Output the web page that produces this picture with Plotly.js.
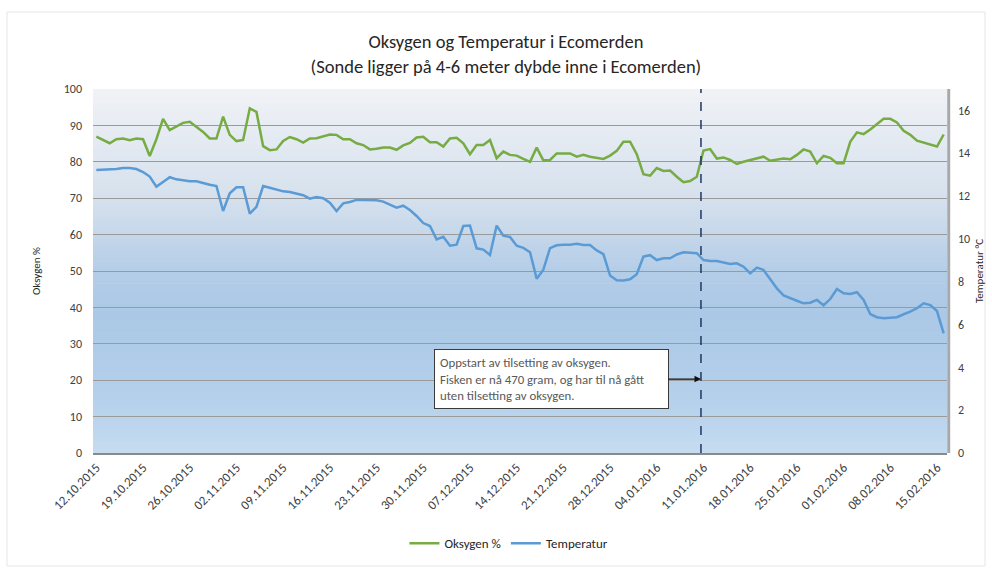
<!DOCTYPE html>
<html>
<head>
<meta charset="utf-8">
<script src="https://cdn.plot.ly/plotly-3.0.1.min.js"></script>
<style>html,body{margin:0;padding:0;background:#fff;}#chart{width:992px;height:570px;}</style>
</head>
<body>
<div id="chart"></div>
<script>
// ---- DATA ----
const dates = [
 '2015-10-12','2015-10-13','2015-10-14','2015-10-15','2015-10-16','2015-10-17','2015-10-18','2015-10-19','2015-10-20','2015-10-21',
 '2015-10-22','2015-10-23','2015-10-24','2015-10-25','2015-10-26','2015-10-27','2015-10-28','2015-10-29','2015-10-30','2015-10-31',
 '2015-11-01','2015-11-02','2015-11-03','2015-11-04','2015-11-05','2015-11-06','2015-11-07','2015-11-08','2015-11-09','2015-11-10',
 '2015-11-11','2015-11-12','2015-11-13','2015-11-14','2015-11-15','2015-11-16','2015-11-17','2015-11-18','2015-11-19','2015-11-20',
 '2015-11-21','2015-11-22','2015-11-23','2015-11-24','2015-11-25','2015-11-26','2015-11-27','2015-11-28','2015-11-29','2015-11-30',
 '2015-12-01','2015-12-02','2015-12-03','2015-12-04','2015-12-05','2015-12-06','2015-12-07','2015-12-08','2015-12-09','2015-12-10',
 '2015-12-11','2015-12-12','2015-12-13','2015-12-14','2015-12-15','2015-12-16','2015-12-17','2015-12-18','2015-12-19','2015-12-20',
 '2015-12-21','2015-12-22','2015-12-23','2015-12-24','2015-12-25','2015-12-26','2015-12-27','2015-12-28','2015-12-29','2015-12-30',
 '2015-12-31','2016-01-01','2016-01-02','2016-01-03','2016-01-04','2016-01-05','2016-01-06','2016-01-07','2016-01-08','2016-01-09',
 '2016-01-10','2016-01-11','2016-01-12','2016-01-13','2016-01-14','2016-01-15','2016-01-16','2016-01-17','2016-01-18','2016-01-19',
 '2016-01-20','2016-01-21','2016-01-22','2016-01-23','2016-01-24','2016-01-25','2016-01-26','2016-01-27','2016-01-28','2016-01-29',
 '2016-01-30','2016-01-31','2016-02-01','2016-02-02','2016-02-03','2016-02-04','2016-02-05','2016-02-06','2016-02-07','2016-02-08',
 '2016-02-09','2016-02-10','2016-02-11','2016-02-12','2016-02-13','2016-02-14','2016-02-15','2016-02-16'
];

const oksygen = [
 86.9,86.0,85.1,86.2,86.4,85.9,86.4,86.2,81.6,86.2,
 91.8,88.7,89.8,90.7,91.0,89.6,88.2,86.4,86.4,92.4,
 87.4,85.7,86.0,94.7,93.7,84.3,83.2,83.4,85.7,86.8,
 86.2,85.3,86.4,86.5,86.9,87.5,87.4,86.2,86.2,85.1,
 84.6,83.4,83.6,83.9,83.9,83.3,84.5,85.2,86.7,86.9,
 85.4,85.4,84.2,86.4,86.6,85.1,82.1,84.6,84.6,86.0,
 81.0,82.8,81.9,81.7,80.8,80.0,83.9,80.4,80.5,82.3,
 82.3,82.3,81.4,81.9,81.4,81.0,80.8,81.7,83.0,85.5,
 85.5,82.1,76.6,76.2,78.3,77.5,77.6,75.9,74.4,74.7,
 75.9,83.1,83.5,80.9,81.2,80.5,79.4,80.0,80.5,81.0,
 81.4,80.3,80.5,80.9,80.7,81.9,83.4,82.8,79.6,81.6,
 81.1,79.6,79.6,85.5,88.1,87.6,88.9,90.3,91.8,91.8,
 90.8,88.5,87.4,85.8,85.2,84.6,84.2,87.5
];

const temperatur = [
 13.22,13.23,13.25,13.26,13.31,13.31,13.26,13.12,12.91,12.44,
 12.66,12.88,12.78,12.74,12.69,12.69,12.60,12.53,12.47,11.30,
 12.13,12.41,12.41,11.18,11.50,12.47,12.39,12.32,12.22,12.19,
 12.11,12.04,11.88,11.96,11.90,11.69,11.30,11.66,11.72,11.82,
 11.82,11.82,11.80,11.74,11.60,11.46,11.55,11.35,11.07,10.74,
 10.60,9.98,10.10,9.68,9.73,10.60,10.62,9.56,9.50,9.25,
 10.62,10.15,10.09,9.68,9.58,9.38,8.14,8.56,9.57,9.70,
 9.73,9.73,9.77,9.71,9.71,9.46,9.29,8.29,8.07,8.06,
 8.11,8.35,9.17,9.24,9.01,9.09,9.09,9.27,9.37,9.36,
 9.33,9.01,8.97,8.97,8.89,8.83,8.86,8.70,8.39,8.66,
 8.55,8.13,7.69,7.36,7.22,7.11,6.99,7.02,7.15,6.90,
 7.19,7.66,7.46,7.43,7.51,7.15,6.49,6.34,6.29,6.31,
 6.34,6.48,6.60,6.76,6.99,6.91,6.63,5.59
];

const tickDates = ['2015-10-12','2015-10-19','2015-10-26','2015-11-02','2015-11-09','2015-11-16','2015-11-23',
 '2015-11-30','2015-12-07','2015-12-14','2015-12-21','2015-12-28','2016-01-04','2016-01-11','2016-01-18',
 '2016-01-25','2016-02-01','2016-02-08','2016-02-15'];
const tickLabels = ['12.10.2015','19.10.2015','26.10.2015','02.11.2015','09.11.2015','16.11.2015','23.11.2015',
 '30.11.2015','07.12.2015','14.12.2015','21.12.2015','28.12.2015','04.01.2016','11.01.2016','18.01.2016',
 '25.01.2016','01.02.2016','08.02.2016','15.02.2016'];

const seriesNames = ['Oksygen %', 'Temperatur'];
const markerDate = '2016-01-10 15:00';
const noteText = 'Oppstart av tilsetting av oksygen.<br>Fisken er nå 470 gram, og har til nå gått<br>uten tilsetting av oksygen.';

// ---- STYLE ----
const FONT = 'Carlito, Lato, "Liberation Sans", sans-serif';
const green = '#77ab43';
const blue = '#5b9bd5';

// gradient background bands (plot area)
const stops = [
 [0.00, [240,242,246]],
 [0.30, [214,225,237]],
 [0.50, [180,205,231]],
 [0.62, [171,200,230]],
 [0.85, [180,208,235]],
 [1.00, [198,220,240]]
];
function colAt(t){
  for (let i=1;i<stops.length;i++){
    if (t<=stops[i][0]){
      const a=stops[i-1], b=stops[i];
      const f=(t-a[0])/(b[0]-a[0]);
      const c=a[1].map((v,k)=>Math.round(v+(b[1][k]-v)*f));
      return 'rgb('+c.join(',')+')';
    }
  }
  return 'rgb('+stops[stops.length-1][1].join(',')+')';
}
const shapes = [];
const N = 90;
for (let i=0;i<N;i++){
  const t = (i+0.5)/N; // from top
  shapes.push({type:'rect', xref:'paper', yref:'paper', x0:0, x1:1,
    y0: 1-(i+1)/N - 0.002, y1: 1-i/N, fillcolor: colAt(t), line:{width:0}, layer:'below'});
}
// right shadow edge
shapes.push({type:'line', xref:'paper', yref:'paper', x0:1.002, x1:1.002, y0:0, y1:1, line:{color:'#a8a8a8', width:3}});
// vertical dashed marker line
shapes.push({type:'line', xref:'x', yref:'paper', x0:markerDate, x1:markerDate, y0:0, y1:1,
  line:{color:'#1f3864', width:1.5, dash:'dash'}});
// outer chart border
shapes.push({type:'rect', xref:'paper', yref:'paper', x0:-0.1007, x1:1.0445, y0:-0.3104, y1:1.2115,
  line:{color:'#e6e6e6', width:1}, fillcolor:'rgba(0,0,0,0)'});

const traces = [
  {x: dates, y: oksygen, name: seriesNames[0], type:'scatter', mode:'lines',
   line:{color:green, width:2.5}, yaxis:'y'},
  {x: dates, y: temperatur, name: seriesNames[1], type:'scatter', mode:'lines',
   line:{color:blue, width:2.5}, yaxis:'y2'}
];

const layout = {
  width: 992, height: 570,
  margin: {l:93, r:45, t:89, b:117},
  paper_bgcolor:'#ffffff', plot_bgcolor:'rgba(0,0,0,0)',
  font: {family: FONT, color:'#404040', size:12},
  title: {text: 'Oksygen og Temperatur i Ecomerden<br>(Sonde ligger på 4-6 meter dybde inne i Ecomerden)',
    font:{family:FONT, size:18.5, color:'#262626'}, x:0.51, xanchor:'center', xref:'container',
    y:0.915, yanchor:'top', yref:'container'},
  xaxis: {type:'date', range:['2015-10-11 12:00','2016-02-16 12:00'],
    tickvals: tickDates, ticktext: tickLabels, tickangle:-45,
    tickfont:{size:13, color:'#404040'}, showgrid:false, zeroline:false,
    showline:true, linecolor:'#8a8a8a', linewidth:2, ticks:'', fixedrange:true},
  yaxis: {range:[0,100], dtick:10, tick0:0, showgrid:true, gridcolor:'#9a9a9a', gridwidth:1,
    zeroline:false, showline:false, ticks:'', ticklabelstandoff:10,
    tickfont:{size:12, color:'#404040'},
    title:{text:'Oksygen %', font:{size:11, color:'#262626'}, standoff:20}},
  yaxis2: {range:[0,17], dtick:2, tick0:0, overlaying:'y', side:'right', showgrid:false,
    zeroline:false, showline:false, ticks:'', ticklabelstandoff:10,
    tickfont:{size:12, color:'#404040'},
    title:{text:'Temperatur °C', font:{size:11, color:'#262626'}, standoff:6}},
  legend: {orientation:'h', xref:'container', yref:'container', x:0.513, xanchor:'center',
    y:0.047, yanchor:'middle', font:{size:13, color:'#262626'}, itemwidth:30, tracegroupgap:0,
    bgcolor:'rgba(0,0,0,0)'},
  shapes: shapes,
  annotations: [{
    x: markerDate, y: 20.3, xref:'x', yref:'y', text: noteText, showarrow:true,
    ax: -149.5, ay: 0, axref:'pixel', ayref:'pixel',
    arrowhead:2, arrowsize:1, arrowwidth:1.3, arrowcolor:'#111111',
    align:'left', width:223,
    font:{family:FONT, size:12.8, color:'#595959'},
    bgcolor:'#ffffff', bordercolor:'#3a3a3a', borderwidth:1, borderpad:5
  }],
  showlegend:true
};

Plotly.newPlot('chart', traces, layout, {displayModeBar:false, staticPlot:true});
</script>
</body>
</html>
